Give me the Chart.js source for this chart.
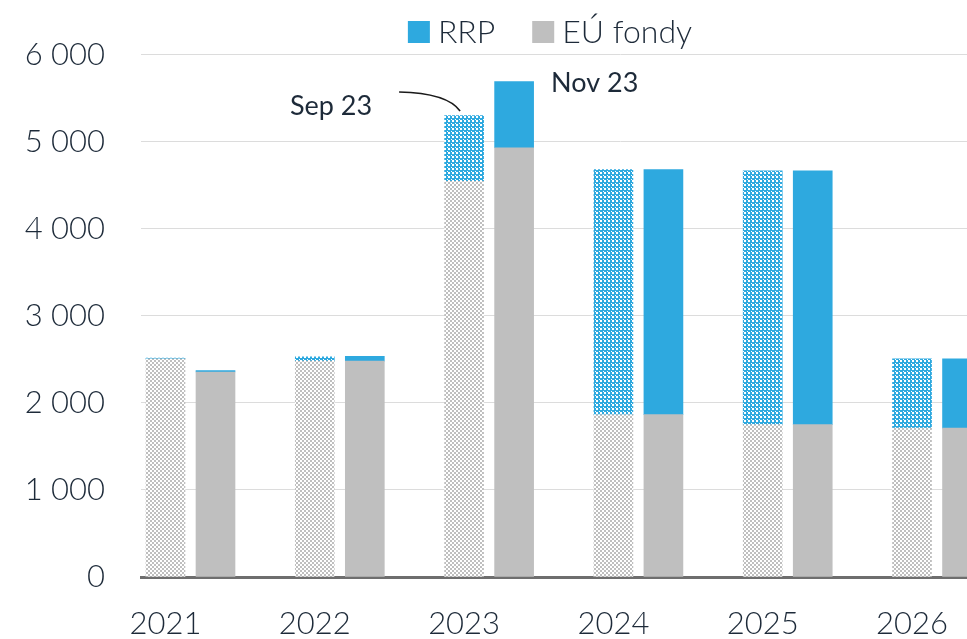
<!DOCTYPE html>
<html>
<head>
<meta charset="utf-8">
<script src="https://cdn.jsdelivr.net/npm/chart.js@4.4.0/dist/chart.umd.min.js"></script>
<style>
  html, body { margin: 0; padding: 0; overflow: hidden; background: #fff; }
  #wrap { width: 1100px; height: 639px; }
</style>
</head>
<body>
<div id="wrap"><canvas id="rrpChart" width="1100" height="639"></canvas></div>
<script>
// drawdown by year, estimate from September vs November (values in mil. EUR)
const years = ['2021', '2022', '2023', '2024', '2025', '2026'];
const euSep  = [2505, 2480, 4545, 1865, 1750, 1710];
const rrpSep = [10, 50, 755, 2815, 2915, 795];
const euNov  = [2355, 2480, 4930, 1865, 1750, 1710];
const rrpNov = [15, 55, 760, 2815, 2915, 795];
const yTicks = [0, 1000, 2000, 3000, 4000, 5000, 6000];

const BLUE = '#2ea9df';
const GRAY = '#bfbfbf';
const TEXT = '#1d2a39';
const FONT = 'Lato, "Open Sans", sans-serif';
const NOV_SHIFT = 0.335;   // November bar sits right of the September one

// 4x4 tile: coloured cells with white gaps
function hatch(fg, holes) {
  const c = document.createElement('canvas');
  c.width = 4; c.height = 4;
  const g = c.getContext('2d');
  g.fillStyle = fg;
  g.fillRect(0, 0, 4, 4);
  g.fillStyle = '#ffffff';
  holes.forEach(h => g.fillRect(h[0], h[1], h[2], h[3]));
  return g.createPattern(c, 'repeat');
}

const pts = (vals, shift) => vals.map((v, i) => ({ x: i + shift, y: v }));
const fmt = v => String(v).replace(/\B(?=(\d{3})+(?!\d))/g, ' ');

// legend row drawn over the plot
const legendRow = {
  id: 'legendRow',
  afterDraw(chart) {
    const ctx = chart.ctx;
    const ds = chart.data.datasets;
    const items = [ds[3], ds[2]].map(d => ({ text: d.label, color: d.backgroundColor }));
    ctx.save();
    ctx.font = '300 32px ' + FONT;
    const widths = items.map(it => ctx.measureText(it.text).width);
    const total = widths.reduce((s, w) => s + 22 + 8 + w, 0) + 37 * (items.length - 1);
    let x = chart.width / 2 - total / 2;
    ctx.textBaseline = 'alphabetic';
    ctx.textAlign = 'left';
    items.forEach((it, i) => {
      ctx.fillStyle = it.color;
      ctx.fillRect(x, 21, 22, 22);
      ctx.fillStyle = TEXT;
      ctx.fillText(it.text, x + 30, 43);
      x += 30 + widths[i] + 37;
    });
    ctx.restore();
  }
};

// "Sep 23" / "Nov 23" notes next to the 2023 bars
const notes = {
  id: 'notes',
  afterDatasetsDraw(chart) {
    const ctx = chart.ctx;
    const sep = chart.getDatasetMeta(1).data[2];
    const nov = chart.getDatasetMeta(3).data[2];
    ctx.save();
    ctx.font = '27px ' + FONT;
    ctx.fillStyle = TEXT;
    ctx.textBaseline = 'alphabetic';
    ctx.textAlign = 'right';
    ctx.fillText('Sep 23', sep.x - 92, sep.y - 1);
    ctx.textAlign = 'left';
    ctx.fillText('Nov 23', nov.x + 37, nov.y + 10);
    ctx.beginPath();
    ctx.moveTo(sep.x - 65, sep.y - 23.5);
    ctx.quadraticCurveTo(sep.x - 17, sep.y - 22.5, sep.x - 4, sep.y - 4.5);
    ctx.strokeStyle = '#1a1a1a';
    ctx.lineWidth = 1.6;
    ctx.stroke();
    ctx.restore();
  }
};

const ctx = document.getElementById('rrpChart');
const grayPat = hatch(GRAY, [[0, 0, 2, 2], [2, 2, 2, 2]]);
const bluePat = hatch(BLUE, [[0, 0, 2, 2], [3, 3, 1, 1]]);

new Chart(ctx, {
  type: 'bar',
  data: {
    datasets: [
      { label: 'EÚ fondy', data: pts(euSep, 0), backgroundColor: grayPat, stack: 'sep' },
      { label: 'RRP', data: pts(rrpSep, 0), backgroundColor: bluePat, stack: 'sep' },
      { label: 'EÚ fondy', data: pts(euNov, NOV_SHIFT), backgroundColor: GRAY, stack: 'nov' },
      { label: 'RRP', data: pts(rrpNov, NOV_SHIFT), backgroundColor: BLUE, stack: 'nov' }
    ]
  },
  options: {
    responsive: false,
    animation: false,
    devicePixelRatio: 1,
    layout: { padding: { top: 52, left: 0, right: 0, bottom: 0 } },
    datasets: {
      bar: { grouped: false, barThickness: 39, borderWidth: 0 }
    },
    scales: {
      x: {
        type: 'linear',
        offset: false,
        min: -0.164,
        max: 6.259,
        afterBuildTicks: s => { s.ticks = years.map((_, i) => ({ value: i })); },
        afterFit: s => { s.height = 62; },
        grid: { display: false, drawTicks: false },
        border: { display: true, color: '#6e6e6e', width: 3 },
        ticks: {
          autoSkip: false,
          maxRotation: 0,
          padding: 28,
          color: TEXT,
          font: { family: FONT, size: 31, weight: 300 },
          callback: v => years[v]
        }
      },
      y: {
        stacked: true,
        min: 0,
        max: 6000,
        afterBuildTicks: s => { s.ticks = yTicks.map(v => ({ value: v })); },
        afterFit: s => { s.width = 141; },
        grid: { color: '#dcdcdc', lineWidth: 1, drawTicks: false },
        border: { display: false },
        ticks: {
          padding: 36,
          color: TEXT,
          font: { family: FONT, size: 31, weight: 300 },
          callback: v => fmt(v)
        }
      }
    },
    plugins: {
      legend: { display: false },
      tooltip: { enabled: false }
    }
  },
  plugins: [legendRow, notes]
});
</script>
</body>
</html>
